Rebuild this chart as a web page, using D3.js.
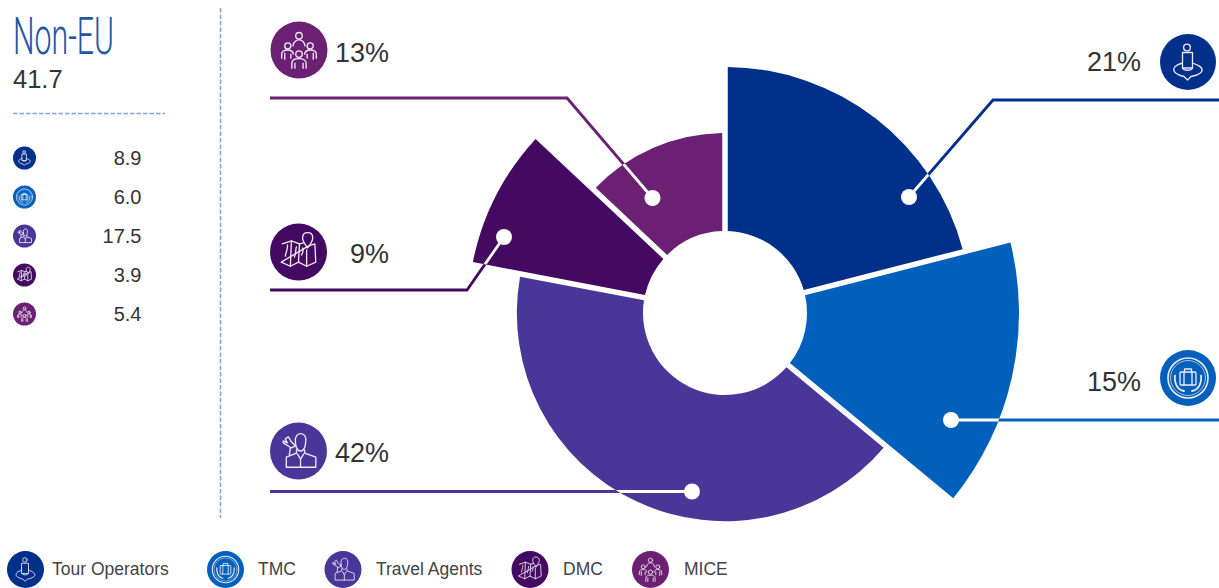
<!DOCTYPE html>
<html>
<head>
<meta charset="utf-8">
<style>
html,body{margin:0;padding:0;background:#fff;overflow:hidden}
svg{display:block}
text{font-family:"Liberation Sans",Arial,sans-serif}
</style>
<script src="https://cdn.jsdelivr.net/npm/d3@7"></script>
</head>
<body>
<svg id="chart" width="1219" height="588" viewBox="0 0 1219 588"></svg>
<script>
// ---------- data ----------
const categories = ["Tour Operators", "TMC", "Travel Agents", "DMC", "MICE"];
const shares = [21, 15, 42, 9, 13];              // percentage shown, sets slice angle
const reach = [83.7, 100, 70.8, 87.5, 61.2];     // relative outer length of each slice
const values = ["8.9", "6.0", "17.5", "3.9", "5.4"];
const groupName = "Non-EU";
const groupTotal = "41.7";
const colors = ["#00308a", "#0060bb", "#483698", "#440a62", "#6b2073"];
const iconKeys = ["tour", "tmc", "agent", "dmc", "mice"];

// ---------- layout ----------
const W = 1219, H = 588;
const cx = 725, cy = 313, innerR = 82, maxR = 294;
const callouts = [
  {icon:[1188,62],  r:28, label:[1141,71], dot:[909,197], route:[[993,100],[1219,100]]},
  {icon:[1188,378], r:28, label:[1141,391], dot:[951,420], route:[[1219,420]]},
  {icon:[298.5,451],r:28.5, label:[389,462], dot:[692,491.5], route:[[270,491.5]]},
  {icon:[298.5,252],r:28.5, label:[389,263], dot:[504,237], route:[[467,290],[270,290]]},
  {icon:[299,50],   r:28.5, label:[389,62], dot:[652.5,198], route:[[567,98],[270,98]]}
];
const legendIconX = [25.5, 225.5, 343, 530, 650.5];
const legendTextX = [52, 258, 376, 563, 684];

const svg = d3.select("#chart");
const radius = d3.scaleLinear().domain([0, 100]).range([0, maxR]);
const pie = d3.pie().sort(null).value(d => d)(shares);
const arc = d3.arc().innerRadius(innerR).padRadius(100).padAngle(0.055);
const slicePath = (p, i) => arc({startAngle:p.startAngle, endAngle:p.endAngle, outerRadius:radius(reach[i])});

// ---------- icons, drawn in a box of radius 28 ----------
const iconShapes = {
  tour: g => {
    g.append("circle").attr("cx",-1).attr("cy",-14.5).attr("r",3.4);
    g.append("path").attr("d","M-5.5,-9.5 H4.5 V6 H-5.5 Z");
    g.append("path").attr("d","M-5.5,1 C-13,3 -15,6 -14,9 C-13,12 -7,14 -4,14.5 L-0.5,18 L3,14.5 C7,14 13,12 14,9 C15,6 11,3 4.5,1");
    g.append("path").attr("d","M-5.5,6 C-4,9 3,9 4.5,6");
  },
  tmc: g => {
    g.append("circle").attr("r",20).attr("stroke-width",1.6);
    g.append("circle").attr("r",17.5).attr("stroke-width",0.7);
    g.append("rect").attr("x",-8).attr("y",-6).attr("width",16).attr("height",13).attr("rx",1);
    g.append("path").attr("d","M-3.5,-6 V-9 H3.5 V-6 M-4,-6 V7 M4,-6 V7");
    g.append("path").attr("stroke-dasharray","2.2 1.3").attr("stroke-width",1.8)
      .attr("d","M-4,13 C-10,12 -14,6 -13,-3 M4,13 C10,12 14,6 13,-3");
  },
  agent: g => {
    g.append("path").attr("d","M-3,-8 C-4,-14 -1,-17 2,-17 C6,-17 8,-14 7,-8 C6.5,-3 4.5,0 2,0 C-0.5,0 -2.5,-3 -3,-8 Z");
    g.append("path").attr("d","M-2,-1 V2 L-12,6 V16 H17 V6 L6,2 V-1 M-1,3 L2,8 L5,3 M2,8 V16");
    g.append("path").attr("d","M-15,-8 L-7,-3 L-3,-5 L-7,-9 L-10,-14 L-13,-12 L-11,-8 L-15,-10 Z");
    g.append("path").attr("d","M-8,-3 L-9,4");
  },
  dmc: g => {
    g.append("path").attr("d","M-16,-8 L-7,-11 L1,-8 L5,-9 M10,-6 L16,-8 L17,10 L8,14 L0,10 L-8,14 L-17,10 Z");
    g.append("path").attr("d","M-7,-11 L-8,14 M1,-8 L0,10 M8,-2 L8,14");
    g.append("path").attr("d","M9,-4 C5,-9 4,-12 4,-14 C4,-17 6,-19 9,-19 C12,-19 14,-17 14,-14 C14,-12 13,-9 9,-4 Z");
    g.append("path").attr("d","M-13,4 C-11,-4 -10,-6 -11,-7 M-4,5 C-2,0 -3,-4 -2,-5 M3,3 C5,-1 5,-3 4,-4");
  },
  mice: g => {
    g.append("circle").attr("cx",0).attr("cy",-14).attr("r",3.2);
    g.append("circle").attr("cx",-11).attr("cy",-4).attr("r",3);
    g.append("circle").attr("cx",11).attr("cy",-4).attr("r",3);
    g.append("circle").attr("cx",0).attr("cy",4).attr("r",3.2);
    g.append("path").attr("d","M-6,-4 C-5,-9 -3,-10 0,-10 C3,-10 5,-9 6,-4");
    g.append("path").attr("d","M-17,8 V4 C-17,1 -14,0 -11,0 C-8,0 -6,1 -5.5,4 M-14,3 V9 M17,8 V4 C17,1 14,0 11,0 C8,0 6,1 5.5,4 M14,3 V9 M-8,4 V8 M8,4 V8");
    g.append("path").attr("d","M-7,18 V13 C-7,10 -4,8.5 0,8.5 C4,8.5 7,10 7,13 V18 M-4,13 V18 M4,13 V18");
  }
};
function drawIcon(x, y, r, i) {
  const g = svg.append("g").attr("transform", `translate(${x},${y})`);
  g.append("circle").attr("r", r).attr("fill", colors[i]);
  const inner = g.append("g").attr("transform", `scale(${r / 28})`)
    .attr("fill", "none").attr("stroke", "#f1eaf4").attr("stroke-width", r < 15 ? 2 : 1.3)
    .attr("stroke-linejoin", "round").attr("stroke-linecap", "round");
  iconShapes[iconKeys[i]](inner);
}

// ---------- left panel ----------
svg.append("text").attr("x", 13).attr("y", 54).text(groupName)
  .attr("font-size", 52).attr("fill", "#2456a6")
  .attr("textLength", 101).attr("lengthAdjust", "spacingAndGlyphs")
  .style("font-family", "Roboto").style("font-weight", 300);
svg.append("text").attr("x", 13).attr("y", 88).text(groupTotal)
  .attr("font-size", 25.5).attr("fill", "#333");
svg.append("line").attr("x1", 13).attr("x2", 165).attr("y1", 113.5).attr("y2", 113.5)
  .attr("stroke", "#86a5d9").attr("stroke-width", 1.5).attr("stroke-dasharray", "4.5 2");
svg.append("line").attr("x1", 220.5).attr("x2", 220.5).attr("y1", 8).attr("y2", 518)
  .attr("stroke", "#86a5d9").attr("stroke-width", 1.5).attr("stroke-dasharray", "4.5 2");

const rowY = d3.scalePoint().domain(d3.range(categories.length)).range([158, 314]);
categories.forEach((c, i) => {
  drawIcon(24.5, rowY(i), 11.5, i);
  svg.append("text").attr("x", 141.5).attr("y", rowY(i) + 7).attr("text-anchor", "end")
    .attr("font-size", 20).attr("fill", "#333").text(values[i]);
});

// ---------- leader lines under the slices ----------
const line = d3.line();
const routes = callouts.map(c => [c.dot, ...c.route]);
svg.append("g").selectAll("path").data(routes).join("path")
  .attr("d", d => line(d)).attr("fill", "none")
  .attr("stroke", (d, i) => colors[i]).attr("stroke-width", 2.8);

// ---------- slices ----------
const chart = svg.append("g").attr("transform", `translate(${cx},${cy})`);
chart.selectAll("path").data(pie).join("path")
  .attr("d", slicePath).attr("fill", (d, i) => colors[i]);

// ---------- white part of the leader inside its slice, and its dot ----------
const defs = svg.append("defs");
pie.forEach((p, i) => {
  defs.append("clipPath").attr("id", "clip" + i).append("path")
    .attr("transform", `translate(${cx},${cy})`).attr("d", slicePath(p, i));
  svg.append("path").attr("d", line(routes[i])).attr("fill", "none")
    .attr("stroke", "#fff").attr("stroke-width", 2.8).attr("clip-path", `url(#clip${i})`);
  svg.append("circle").attr("cx", callouts[i].dot[0]).attr("cy", callouts[i].dot[1])
    .attr("r", 8).attr("fill", "#fff");
});

// ---------- callout icons and percentages ----------
callouts.forEach((c, i) => {
  drawIcon(c.icon[0], c.icon[1], c.r, i);
  svg.append("text").attr("x", c.label[0]).attr("y", c.label[1]).attr("text-anchor", "end")
    .attr("font-size", 27).attr("fill", "#333").text(shares[i] + "%");
});

// ---------- legend ----------
categories.forEach((c, i) => {
  drawIcon(legendIconX[i], 569.5, 18.5, i);
  svg.append("text").attr("x", legendTextX[i]).attr("y", 575)
    .attr("font-size", 17.5).attr("fill", "#444").text(c);
});
</script>
</body>
</html>
